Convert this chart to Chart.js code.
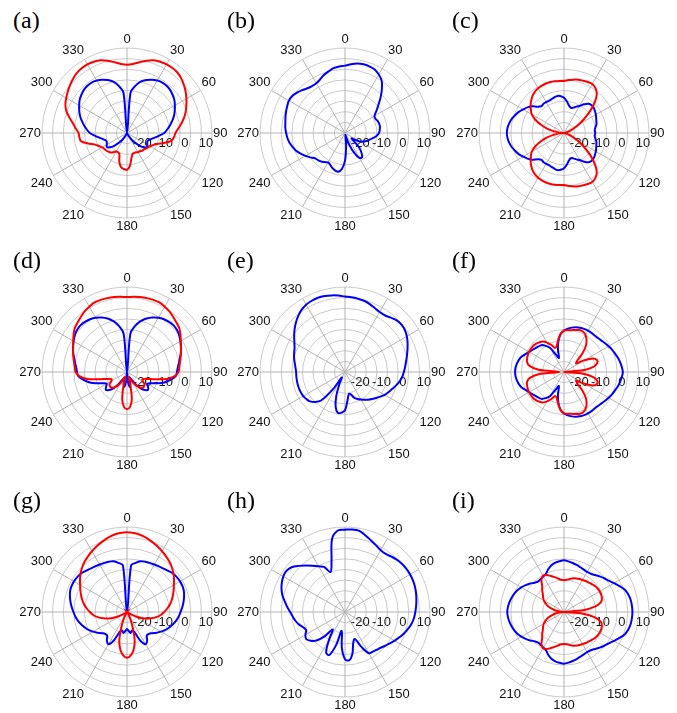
<!DOCTYPE html>
<html>
<head>
<meta charset="utf-8">
<script src="https://cdn.jsdelivr.net/npm/chart.js@4.4.1/dist/chart.umd.min.js"></script>
<style>
  body { margin: 0; background: #fff; width: 677px; height: 713px; position: relative; overflow: hidden; }
  canvas { position: absolute; }
  .tag { position: absolute; font-family: "Liberation Serif", "DejaVu Serif", serif; font-size: 24px; line-height: 24px; color: #000; }
</style>
</head>
<body>
<script>
// angle categories (degrees, clockwise from top)
const angles = [0, 5, 10, 15, 20, 25, 30, 35, 40, 45, 50, 55,
                60, 65, 70, 75, 80, 85, 90, 95, 100, 105, 110, 115,
                120, 125, 130, 135, 140, 145, 150, 155, 160, 165, 170, 175,
                180, 185, 190, 195, 200, 205, 210, 215, 220, 225, 230, 235,
                240, 245, 250, 255, 260, 265, 270, 275, 280, 285, 290, 295,
                300, 305, 310, 315, 320, 325, 330, 335, 340, 345, 350, 355];
const tickValues = [-20, -10, 0, 10];

// gain in dB, one value per angle (rows of 60 degrees)
const aRed = [
    2.1, 2.6, 3.8, 5.2, 6.4, 7.0, 7.3, 7.3, 7.0, 6.2, 5.0, 3.7,
    2.3, 0.8, -0.6, -2.2, -4, -5.8, -7.2, -7.8, -8.8, -12, -15, -16.5,
    -17.5, -18, -18.5, -19, -19, -19.5, -19.5, -20, -20, -19.8, -18, -14.5,
    -12.7, -13, -13.7, -16, -19.5, -20, -20, -19, -18, -17.6, -17.2, -17,
    -16.5, -15.5, -14, -11, -8, -7.5, -7.2, -5.8, -4.2, -2, 0.4, 2,
    3, 4, 5, 6, 6.8, 7.2, 7.3, 7.0, 6.4, 5.2, 3.8, 2.6];
const aBlue = [
    -30, -11, -7.5, -5, -3.5, -2.3, -1.5, -1.0, -1.0, -1.3, -2, -2.8,
    -4, -5.2, -6.5, -8, -9.5, -11, -12.5, -15, -17, -18.5, -19.5, -19.5,
    -19, -18.5, -19.5, -21.5, -24, -26, -28, -29.5, -30, -30, -30, -30,
    -30, -30, -30, -30, -30, -29.5, -28, -26, -24, -21.5, -19.5, -18.5,
    -19, -19.5, -19.5, -18.5, -17, -15, -12.5, -11, -9.5, -8, -6.5, -5.2,
    -4, -2.8, -2, -1.3, -1.0, -1.0, -1.5, -2.3, -3.5, -5, -7.5, -11];
const bBlue = [
    1.7, 2.5, 3.2, 3.5, 3.4, 3.0, 1.8, 0.1, -3, -6.3, -9.5, -12,
    -14, -14.2, -13.6, -13.3, -13.3, -13.6, -14, -15, -16.5, -18, -19, -20.5,
    -22, -25, -26, -21, -18, -16, -16.5, -19.5, -24, -28, -29, -24,
    -17, -13, -11.5, -11.8, -12.5, -13.5, -14, -13.3, -12.5, -12, -11.5, -10,
    -8.5, -7, -5.5, -4.5, -3.5, -2.8, -2.3, -1.8, -1.5, -1, -0.5, 0,
    0.5, 0.3, -0.5, -1.5, -2.5, -3, -3, -2.2, -1, 0, 1, 1.4];
const cRed = [
    -5.5, -5, -4.5, -4, -3.8, -3.5, -3.4, -4.2, -6, -9.5, -14, -18.5,
    -22, -25, -27, -28.5, -29.5, -30, -30, -30, -29.5, -28.5, -27, -25,
    -22, -18.5, -14, -9.5, -6, -4.2, -3.4, -3.5, -3.8, -4, -4.5, -5,
    -5.5, -5.4, -5.3, -5.2, -5.2, -5.4, -5.7, -6.2, -7, -8.2, -9.5, -11,
    -12.5, -15, -18.3, -21.5, -25, -28, -30, -28, -25, -21.5, -18.3, -15,
    -12.5, -11, -9.5, -8.2, -7, -6.2, -5.7, -5.4, -5.2, -5.2, -5.3, -5.4];
const cBlue = [
    -13.4, -15, -16.8, -17.7, -17.3, -16.3, -15.3, -13.5, -12, -11.6, -11.7, -12.2,
    -12.7, -13.3, -13.8, -14.2, -15, -15.5, -15.3, -15.5, -15, -14.2, -13.8, -13.3,
    -12.7, -12.2, -11.7, -11.6, -12, -13.5, -15.3, -16.3, -17.3, -17.7, -16.8, -15,
    -13.4, -12.6, -12.3, -12.6, -13, -13.3, -13.2, -13.2, -13.5, -12.5, -10.5, -9,
    -7.8, -6.5, -5.5, -4.5, -3.8, -3.3, -3.1, -3.3, -3.8, -4.5, -5.5, -6.5,
    -7.8, -9, -10.5, -12.5, -13.5, -13.2, -13.2, -13.3, -13, -12.6, -12.3, -12.6];
const dRed = [
    5.3, 5.5, 5.8, 6, 6.1, 6.1, 5.5, 4.8, 3.8, 2.9, 2.1, 0.7,
    -0.8, -2, -3, -3.9, -4.7, -5.3, -5.8, -7.5, -11, -17, -20.5, -22,
    -21.5, -20, -19.5, -19.5, -20.5, -22, -24, -26.5, -27.5, -24, -17, -13.5,
    -12.5, -13.5, -17, -24, -27.5, -26.5, -24, -22, -20.5, -19.5, -19.5, -20,
    -21.5, -22, -20.5, -17, -11, -7.5, -5.8, -5.3, -4.7, -3.9, -3, -2,
    -0.8, 0.7, 2.1, 2.9, 3.8, 4.8, 5.5, 6.1, 6.1, 6, 5.8, 5.5];
const dBlue = [
    -30, -12, -8, -5.2, -3.2, -1.7, -0.5, 0.3, 0.8, 1, 0.7, 0,
    -1, -2, -3, -4.2, -5.2, -6, -6.5, -7, -9, -11.5, -14.5, -17.5,
    -19, -18, -17, -18, -20, -23, -26, -27, -26, -24, -23, -26,
    -30, -26, -23, -24, -26, -27, -26, -23, -20, -18, -17, -18,
    -19, -17.5, -14.5, -11.5, -9, -7, -6.5, -6, -5.2, -4.2, -3, -2,
    -1, 0, 0.7, 1, 0.8, 0.3, -0.5, -1.7, -3.2, -5.2, -8, -12];
const eBlue = [
    5.5, 5.3, 5, 4.7, 4, 3.2, 2.6, 2.6, 3.4, 4.4, 4.7, 4.4,
    3.6, 2.5, 1.3, 0.2, -0.8, -1.6, -2.3, -3, -4, -5.2, -6.5, -7.5,
    -8.5, -9.8, -11, -12, -13, -14, -15, -16, -17, -19, -19.5, -16.5,
    -12, -10.8, -10.5, -13, -18, -24, -27, -20, -12.5, -10, -8.5, -7.8,
    -7.3, -7.1, -7, -7, -7, -7, -7, -6.6, -6, -5.2, -4.5, -3.8,
    -2.5, -0.8, 1, 2.7, 4.3, 5.7, 6.6, 7, 7.2, 7, 6.6, 6.1];
const fRed = [
    -10.5, -10.3, -10, -9.5, -9, -9, -9.8, -11.5, -14, -18, -22, -23,
    -19, -15, -13.5, -13.8, -16, -21, -30, -21, -16, -13.8, -13.5, -15,
    -19, -23, -22, -18, -14, -11.5, -9.8, -9, -9, -9.5, -10, -10.3,
    -10.5, -12, -14.5, -17, -18, -16, -14, -12.5, -11.8, -11.3, -11, -11,
    -11, -11.2, -11.5, -12, -13.5, -18, -28, -18, -13.5, -12, -11.5, -11.2,
    -11, -11, -11, -11.3, -11.8, -12.5, -14, -16, -18, -17, -14.5, -12];
const fBlue = [
    -10.5, -9.5, -8.8, -8.2, -7.8, -7.6, -7.5, -7.5, -7.6, -7.4, -7, -6.4,
    -5.8, -5.1, -4.5, -3.8, -3.2, -2.7, -2.3, -2.7, -3.2, -3.8, -4.5, -5.1,
    -5.8, -6.4, -7, -7.4, -7.6, -7.5, -7.5, -7.6, -7.8, -8.2, -8.8, -9.5,
    -10.5, -12, -15, -19, -23, -21, -17, -15, -13.5, -13, -12.5, -11.8,
    -11, -10, -8.8, -8, -7.5, -7.1, -7, -7.1, -7.5, -8, -8.8, -10,
    -11, -11.8, -12.5, -13, -13.5, -15, -17, -21, -23, -19, -15, -12];
const gRed = [
    7.5, 7.3, 6.8, 6, 5, 4, 3, 2, 1, -0.2, -1.5, -3,
    -4.5, -5.8, -7, -8.2, -9.5, -11, -12.5, -14, -16, -18.5, -21, -24.5,
    -28, -29.5, -30, -30, -30, -29.8, -29, -26, -22, -16, -12, -9.5,
    -8.5, -9.5, -12, -16, -22, -26, -29, -29.8, -30, -30, -30, -29.5,
    -28, -24.5, -21, -18.5, -16, -14, -12.5, -11, -9.5, -8.2, -7, -5.8,
    -4.5, -3, -1.5, -0.2, 1, 2, 3, 4, 5, 6, 6.8, 7.3];
const gBlue = [
    -30, -8, -6.5, -5.3, -4.8, -4.5, -4.2, -3.8, -3.3, -2.6, -1.8, -1.4,
    -1.2, -1.2, -1.5, -2.2, -3, -3.9, -4.8, -5.6, -6.5, -7.6, -8.8, -10,
    -11.5, -13, -14.5, -15.5, -15.5, -13.5, -12.5, -15, -20, -21, -20, -21,
    -22, -21, -20, -21, -20, -15, -12.5, -13.5, -15.5, -15.5, -14.5, -13,
    -11.5, -10, -8.8, -7.6, -6.5, -5.6, -4.8, -3.9, -3, -2.2, -1.5, -1.2,
    -1.2, -1.4, -1.8, -2.6, -3.3, -3.8, -4.2, -4.5, -4.8, -5.3, -6.5, -8];
const hBlue = [
    8.7, 9, 8.8, 7.3, 5.8, 4.6, 3.6, 3.4, 4, 4.7, 5.1, 5.3,
    5.4, 5.3, 5, 4.6, 4.1, 3.6, 3.1, 2.6, 1.8, 0.7, -0.5, -1.8,
    -3, -4.2, -5.3, -6.2, -6.8, -7.2, -7.6, -12, -16.5, -15, -10, -7.2,
    -7.8, -13, -21, -14, -8.5, -9, -15, -20, -15, -11, -9, -7.7,
    -8.5, -9.8, -9, -7.5, -6.3, -5.3, -4.2, -2.7, -1.2, 0.5, 1.8, 2.8,
    3.5, 3.7, 2.8, 0.7, -1.5, -3.5, -5.2, -6.6, -10, -5.5, 5, 8.5];
const iRed = [
    -15, -14.8, -14.2, -13.6, -13.2, -12.9, -12.6, -12.2, -11.9, -11.5, -11, -10.7,
    -10.6, -10.7, -11, -12, -15, -21, -30, -21, -15, -12, -11, -10.7,
    -10.6, -10.7, -11, -11.5, -11.9, -12.2, -12.6, -12.9, -13.2, -13.6, -14.2, -14.8,
    -15, -14.8, -14, -13, -12, -10.8, -10.3, -11.5, -14, -15.5, -17, -18,
    -19, -20.5, -22, -24, -26, -28.5, -30, -28.5, -26, -24, -22, -20.5,
    -19, -18, -17, -15.5, -14, -11.5, -10.3, -10.8, -12, -13, -14, -14.8];
const iBlue = [
    -5.7, -6.1, -6.6, -7.1, -7.6, -8, -8.2, -8, -7.3, -6.3, -5.3, -4.3,
    -2.8, -1.2, 0.5, 1.4, 1.9, 2.1, 2.2, 2.1, 1.9, 1.4, 0.5, -1.2,
    -2.8, -4.3, -5.3, -6.3, -7.3, -8, -8.2, -8, -7.6, -7.1, -6.6, -6.1,
    -5.7, -6, -6.4, -7.2, -8.5, -10, -10.6, -11, -11.2, -10.5, -9.2, -8,
    -6.8, -5.8, -5, -4.4, -3.9, -3.5, -3.3, -3.5, -3.9, -4.4, -5, -5.8,
    -6.8, -8, -9.2, -10.5, -11.2, -11, -10.6, -10, -8.5, -7.2, -6.4, -6];

const RED = "#ff0000";
const BLUE = "#0000ff";
const RADIUS = 85;

const panels = [
    { tag: "(a)", cx: 126.5, cy: 132.5, tx: 13,  ty: 8,   series: [[aRed, RED], [aBlue, BLUE]] },
    { tag: "(b)", cx: 345,   cy: 132.5, tx: 227, ty: 8,   series: [[bBlue, BLUE]] },
    { tag: "(c)", cx: 564,   cy: 132.5, tx: 452, ty: 8,   series: [[cRed, RED], [cBlue, BLUE]] },
    { tag: "(d)", cx: 126.5, cy: 372,   tx: 13,  ty: 248, series: [[dRed, RED], [dBlue, BLUE]] },
    { tag: "(e)", cx: 345,   cy: 372,   tx: 227, ty: 248, series: [[eBlue, BLUE]] },
    { tag: "(f)", cx: 564,   cy: 372,   tx: 452, ty: 248, series: [[fRed, RED], [fBlue, BLUE]] },
    { tag: "(g)", cx: 126.5, cy: 612,   tx: 13,  ty: 488, series: [[gRed, RED], [gBlue, BLUE]] },
    { tag: "(h)", cx: 345,   cy: 612,   tx: 227, ty: 488, series: [[hBlue, BLUE]] },
    { tag: "(i)", cx: 564,   cy: 612,   tx: 452, ty: 488, series: [[iRed, RED], [iBlue, BLUE]] }
];

// dB labels along the 90 degree spoke, under the curves
const tickLabels = {
    id: "tickLabels",
    beforeDatasetsDraw(chart) {
        const s = chart.scales.r;
        const ctx = chart.ctx;
        ctx.save();
        ctx.font = '13px "Liberation Sans", Arial, sans-serif';
        ctx.fillStyle = "#1a1a1a";
        ctx.textAlign = "center";
        ctx.textBaseline = "middle";
        tickValues.forEach(v => {
            const d = s.getDistanceFromCenterForValue(v);
            ctx.fillText(String(v), s.xCenter + d - 6, s.yCenter + 10);
        });
        ctx.restore();
    }
};

function drawPanel(p) {
    const tag = document.createElement("div");
    tag.className = "tag";
    tag.textContent = p.tag;
    tag.style.left = p.tx + "px";
    tag.style.top = p.ty + "px";
    document.body.appendChild(tag);

    const canvas = document.createElement("canvas");
    canvas.width = 240;
    canvas.height = 240;
    document.body.appendChild(canvas);

    const chart = new Chart(canvas, {
        type: "radar",
        data: {
            labels: angles.map(String),
            datasets: p.series.map(([values, color]) => ({
                data: values,
                borderColor: color,
                borderWidth: 2,
                fill: false,
                pointRadius: 0,
                pointHoverRadius: 0,
                tension: 0.35
            }))
        },
        options: {
            responsive: false,
            animation: false,
            events: [],
            layout: { padding: 0 },
            plugins: { legend: { display: false }, tooltip: { enabled: false } },
            scales: {
                r: {
                    min: -30,
                    max: 10,
                    ticks: { stepSize: 5, display: false },
                    grid: { circular: true, color: "#c9c9c9", lineWidth: 1 },
                    angleLines: {
                        color: "#b3b3b3",
                        lineWidth: ctx => (ctx.index % 6 === 0 ? 1 : 0)
                    },
                    pointLabels: {
                        color: "#111",
                        padding: 1,
                        font: { family: '"Liberation Sans", Arial, sans-serif', size: 13 },
                        callback: (label, i) => (i % 6 === 0 ? label : "")
                    }
                }
            }
        },
        plugins: [tickLabels]
    });

    for (let k = 0; k < 3; k++) {
        const diff = chart.scales.r.drawingArea - RADIUS;
        if (diff === 0) break;
        chart.options.layout.padding = Math.max(0, chart.options.layout.padding + diff);
        chart.update("none");
    }
    const s = chart.scales.r;
    canvas.style.left = Math.round(p.cx - s.xCenter) + "px";
    canvas.style.top = Math.round(p.cy - s.yCenter) + "px";
}

panels.forEach(drawPanel);
</script>
</body>
</html>
